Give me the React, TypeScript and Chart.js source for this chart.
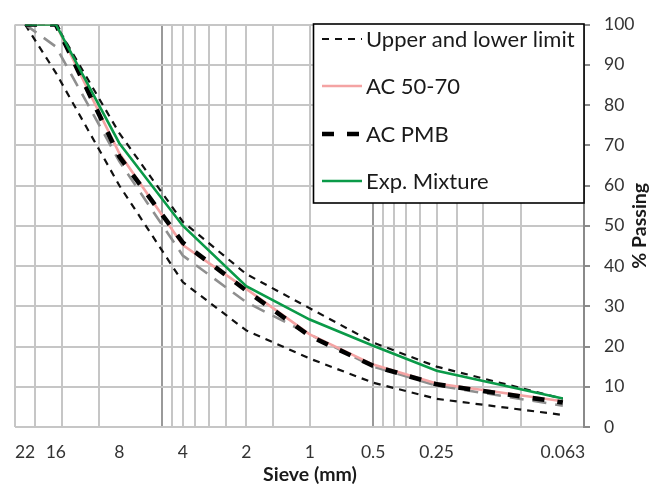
import React, { useEffect, useRef } from "react";
import { Chart, registerables } from "chart.js";

Chart.register(...registerables);

// ---- data ----
const sieveSizes = [22.4, 16, 8, 4, 2, 1, 0.5, 0.25, 0.063];
const sieveLabels = ["22", "16", "8", "4", "2", "1", "0.5", "0.25", "0.063"];
const upperLimit = [100, 100, 73, 51, 38, 29.5, 21, 15, 7];
const lowerLimit = [100, 88, 60, 36, 24, 17, 11, 7, 3];
const ac5070 = [100, 100, 68, 45.2, 34.3, 23, 15.5, 10.8, 6.4];
const acPmb = [100, 100, 67.2, 45.8, 33.9, 22.6, 15.2, 10.6, 6.1];
const greyMix = [100, 94.5, 66, 42.6, 31, 23, 15, 10.3, 5.3];
const expMixture = [100, 100, 70.5, 50, 35, 26.7, 20.2, 14, 7.1];

const gridSieves = [0.1, 0.15, 0.2, 0.25, 0.3, 0.35, 0.4, 0.45, 0.5, 1, 1.5, 2, 2.5, 3, 3.5, 4, 4.5, 5, 10, 15, 20, 25];
const majorGridSieves = [0.5, 5];
const xMin = 0.05;
const xMax = 25;
const yMin = 0;
const yMax = 100;
const yStep = 10;

const legendLabels = ["Upper and lower limit", "AC 50-70", "AC PMB", "Exp. Mixture"];
const xTitle = "Sieve (mm)";
const yTitle = "% Passing";

const FONT = "Lato, 'Open Sans', sans-serif";

function pts(arr: number[]) {
  return sieveSizes.map((s, i) => ({ x: s, y: arr[i] }));
}

export default function App() {
  const ref = useRef<HTMLCanvasElement | null>(null);

  useEffect(() => {
    const canvas = ref.current;
    if (!canvas) return;

    const labelMap = new Map<number, string>();
    sieveSizes.forEach((s, i) => labelMap.set(s, sieveLabels[i]));
    const gridSet = new Set<number>(gridSieves);
    const allTicks = Array.from(new Set<number>([...gridSieves, ...sieveSizes])).sort((a, b) => b - a);

    const styles = {
      upper: { color: "#111111", width: 2.2, dash: [7, 6] },
      pink: { color: "#f4a3a3", width: 2.6, dash: [] as number[] },
      pmb: { color: "#000000", width: 4.6, dash: [12, 13] },
      green: { color: "#0a9a48", width: 2.6, dash: [] as number[] },
    };

    const legendItems = [
      { text: legendLabels[0], s: styles.upper },
      { text: legendLabels[1], s: styles.pink },
      { text: legendLabels[2], s: styles.pmb },
      { text: legendLabels[3], s: styles.green },
    ];

    const overlay = {
      id: "overlay",
      afterDraw(chart: any) {
        const ctx = chart.ctx as CanvasRenderingContext2D;
        const a = chart.chartArea;
        // legend box
        const bx0 = 313.5;
        const by0 = a.top - 0.5;
        const bx1 = a.right;
        const by1 = 203;
        ctx.save();
        ctx.fillStyle = "#ffffff";
        ctx.fillRect(bx0, by0, bx1 - bx0, by1 - by0);
        ctx.strokeStyle = "#000000";
        ctx.lineWidth = 1.6;
        ctx.strokeRect(bx0, by0, bx1 - bx0, by1 - by0);
        const rowY = [39, 86, 134, 181];
        legendItems.forEach((it, i) => {
          const y = rowY[i];
          ctx.beginPath();
          ctx.setLineDash(it.s.dash);
          ctx.lineDashOffset = 0;
          ctx.strokeStyle = it.s.color;
          ctx.lineWidth = it.s.width;
          ctx.moveTo(bx0 + 8.5, y);
          ctx.lineTo(bx0 + 48.5, y);
          ctx.stroke();
          ctx.setLineDash([]);
          ctx.fillStyle = "#1a1a1a";
          ctx.font = `22px ${FONT}`;
          ctx.textAlign = "left";
          ctx.textBaseline = "middle";
          ctx.fillText(it.text, bx0 + 52.5, y + 1);
        });
        // axis titles
        ctx.fillStyle = "#1a1a1a";
        ctx.font = `bold 19.5px ${FONT}`;
        ctx.textAlign = "center";
        ctx.textBaseline = "middle";
        ctx.fillText(xTitle, 310, 475);
        ctx.translate(640, (a.top + a.bottom) / 2);
        ctx.rotate(-Math.PI / 2);
        ctx.fillText(yTitle, 0, 0);
        ctx.restore();
      },
    };

    const mk = (label: string, arr: number[], s: any, order: number) => ({
      label,
      data: pts(arr),
      borderColor: s.color,
      backgroundColor: s.color,
      borderWidth: s.width,
      borderDash: s.dash,
      pointRadius: 0,
      pointHoverRadius: 0,
      fill: false,
      tension: 0,
      order,
    });

    const chart = new Chart(canvas, {
      type: "line",
      data: {
        datasets: [
          mk(legendLabels[3], expMixture, styles.green, 0),
          mk(legendLabels[2], acPmb, styles.pmb, 1),
          mk(legendLabels[1], ac5070, styles.pink, 2),
          mk("", greyMix, { color: "#8f8f8f", width: 2.6, dash: [14, 9] }, 3),
          mk(legendLabels[0], upperLimit, styles.upper, 4),
          mk("Lower limit", lowerLimit, styles.upper, 5),
        ],
      },
      options: {
        animation: false,
        responsive: false,
        maintainAspectRatio: false,
        layout: { padding: { left: 14, top: 17, right: 0, bottom: 0 } },
        plugins: {
          legend: { display: false },
          tooltip: { enabled: false },
          title: { display: false },
        },
        scales: {
          x: {
            type: "logarithmic",
            position: "bottom",
            reverse: true,
            min: xMin,
            max: xMax,
            afterBuildTicks: (scale: any) => {
              scale.ticks = allTicks.map((v) => ({ value: v }));
            },
            afterFit: (scale: any) => {
              scale.height = 59;
            },
            grid: {
              drawTicks: false,
              lineWidth: 2,
              color: (c: any) => {
                const v = c.tick ? c.tick.value : null;
                if (v == null || !gridSet.has(v)) return "rgba(0,0,0,0)";
                return majorGridSieves.includes(v) ? "#9a9a9a" : "#c6c6c6";
              },
            },
            border: { display: false },
            ticks: {
              autoSkip: false,
              maxRotation: 0,
              minRotation: 0,
              padding: 15,
              color: "#333333",
              font: { family: FONT, size: 17.5 },
              callback: (value: any) => labelMap.get(Number(value)) ?? "",
            },
          },
          y: {
            type: "linear",
            position: "right",
            min: yMin,
            max: yMax,
            afterFit: (scale: any) => {
              scale.width = 77;
            },
            grid: {
              color: "#c6c6c6",
              lineWidth: 2,
              tickColor: "#8a8a8a",
              tickLength: 6,
            },
            border: { display: true, color: "#8a8a8a", width: 2 },
            ticks: {
              stepSize: yStep,
              padding: 14,
              color: "#333333",
              font: { family: FONT, size: 17.5 },
            },
          },
        },
      },
      plugins: [overlay],
    } as any);

    return () => chart.destroy();
  }, []);

  return (
    <div style={{ position: "fixed", left: 0, top: 0, width: 661, height: 486, background: "#ffffff" }}>
      <canvas ref={ref} width={661} height={486} style={{ display: "block" }} />
    </div>
  );
}
